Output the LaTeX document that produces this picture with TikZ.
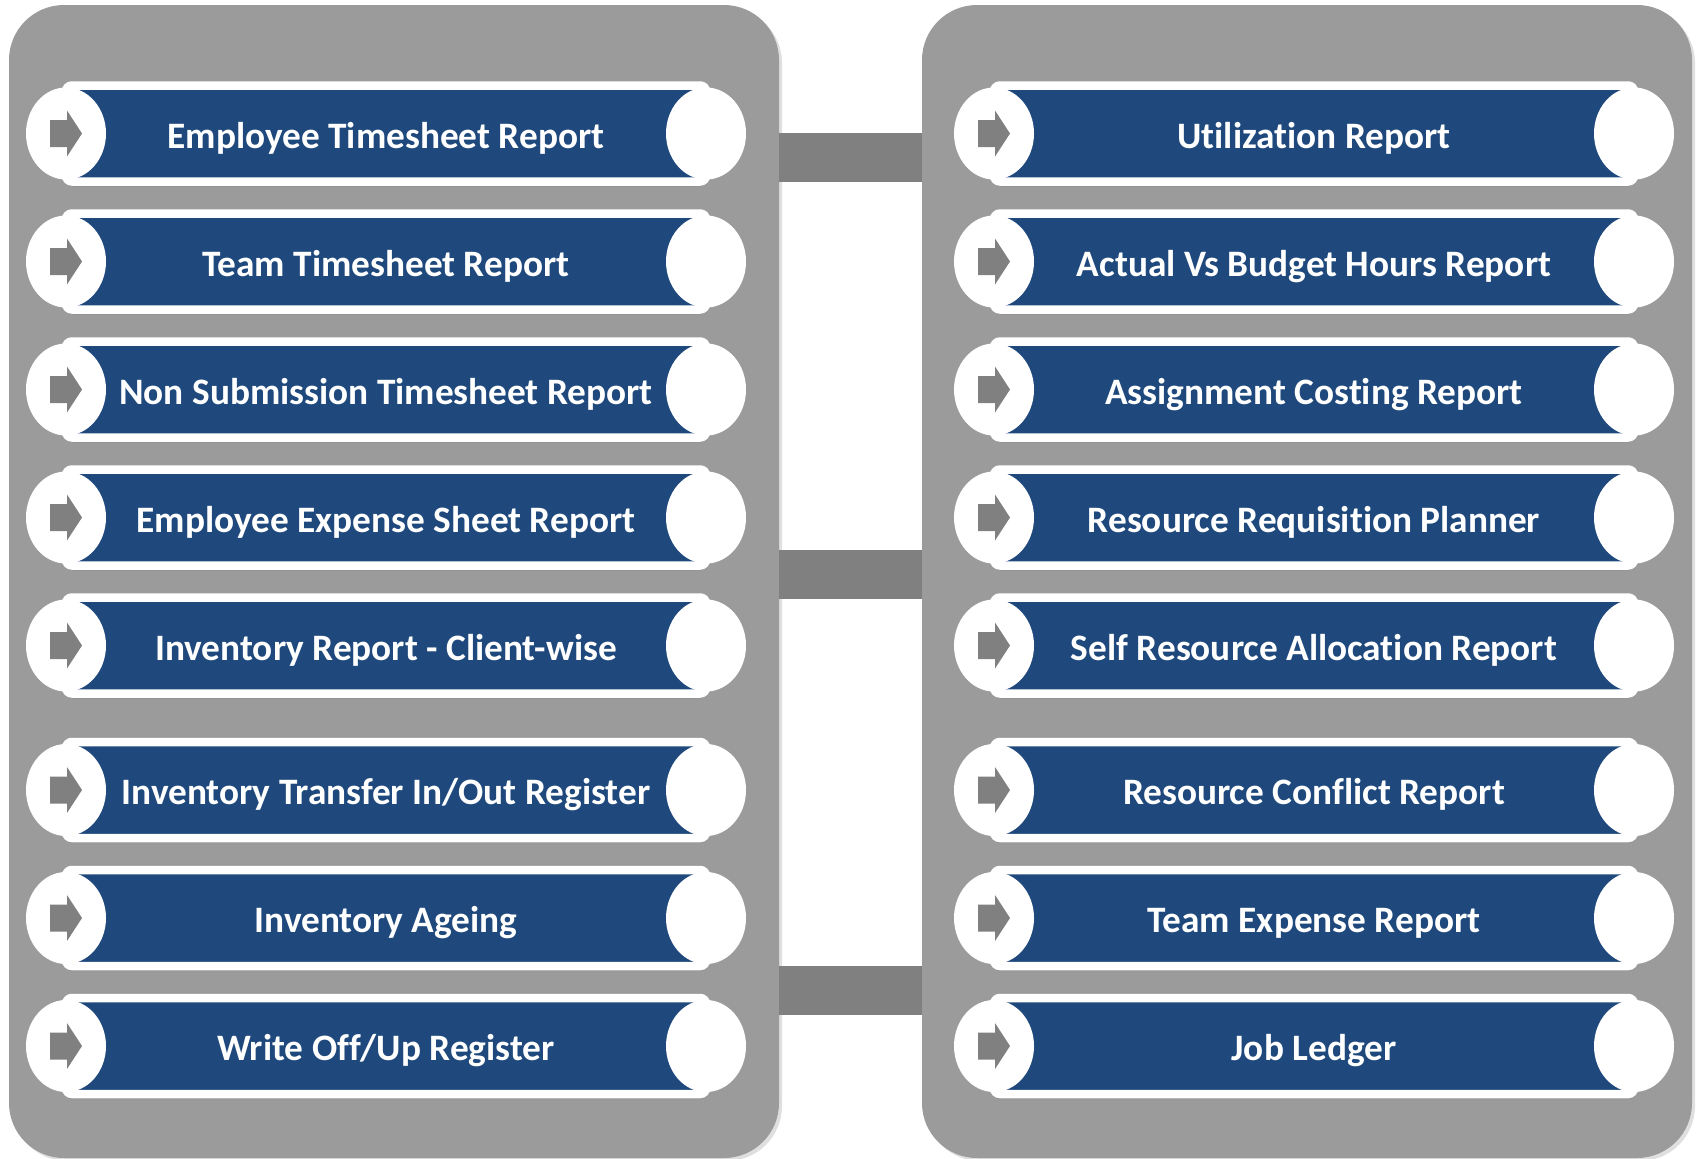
\documentclass[tikz,border=0pt]{standalone}
\usepackage{fontspec}
\setmainfont{Carlito}[Ligatures=NoCommon]
\usetikzlibrary{shapes.geometric,shadows}
\definecolor{panelgray}{RGB}{155,155,155}
\definecolor{linkgray}{RGB}{128,128,128}
\definecolor{arrowgray}{RGB}{128,128,128}
\definecolor{bandblue}{RGB}{31,73,125}
\begin{document}
\begin{tikzpicture}
  [x=1pt,y=-1pt,
   panel/.style={fill=panelgray,rounded corners=55pt,minimum width=770pt,minimum height=1153pt,inner sep=0pt,outer sep=0pt,
     drop shadow={shadow xshift=3pt,shadow yshift=-3pt,opacity=.25}},
   band/.style={rectangle,fill=bandblue,draw=white,line width=8.5pt,rounded corners=6pt,
     minimum width=640pt,minimum height=96pt,inner sep=0pt,outer sep=0pt,text=white,
     font=\bfseries\fontsize{37.3}{44}\selectfont,text height=29pt,text depth=0pt,
     drop shadow={shadow xshift=0pt,shadow yshift=-5pt,opacity=.35}},
   knob/.style={ellipse,fill=white,minimum width=80pt,minimum height=92pt,inner sep=0pt},
   link/.style={draw=linkgray,line width=49pt},
   pointer/.pic={\fill[arrowgray] (-16,-13.5) -- (1,-13.5) -- (1,-23) -- (16,0) -- (1,23) -- (1,13.5) -- (-16,13.5) -- cycle;}]
  \useasboundingbox (0,0) rectangle (1698,1159);

  \node[panel] (lpanel) at (394,581.5) {};
  \node[panel] (rpanel) at (1307,581.5) {};

  \draw[link] (lpanel.east |- 0,157.5) -- (rpanel.west |- 0,157.5);
  \draw[link] (lpanel.east |- 0,574.5) -- (rpanel.west |- 0,574.5);
  \draw[link] (lpanel.east |- 0,990.5) -- (rpanel.west |- 0,990.5);

  \node[band] (l1) at (386,133.5) {Employee Timesheet Report};
  \node[band] (l2) at (386,261.5) {Team Timesheet Report};
  \node[band] (l3) at (386,389.5) {Non Submission Timesheet Report};
  \node[band] (l4) at (386,517.5) {Employee Expense Sheet Report};
  \node[band] (l5) at (386,645.5) {Inventory Report - Client-wise};
  \node[band] (l6) at (386,790) {Inventory Transfer In/Out Register};
  \node[band] (l7) at (386,918) {Inventory Ageing};
  \node[band] (l8) at (386,1046) {Write Off/Up Register};

  \node[band] (r1) at (1314,133.5) {Utilization Report};
  \node[band] (r2) at (1314,261.5) {Actual Vs Budget Hours Report};
  \node[band] (r3) at (1314,389.5) {Assignment Costing Report};
  \node[band] (r4) at (1314,517.5) {Resource Requisition Planner};
  \node[band] (r5) at (1314,645.5) {Self Resource Allocation Report};
  \node[band] (r6) at (1314,790) {Resource Conflict Report};
  \node[band] (r7) at (1314,918) {Team Expense Report};
  \node[band] (r8) at (1314,1046) {Job Ledger};

  % white ends with the arrow on the left one
  \foreach \n in {l1,l2,l3,l4,l5,l6,l7,l8,r1,r2,r3,r4,r5,r6,r7,r8} {
    \node[knob] (\n a) at (\n.west) {};
    \pic at (\n a) {pointer};
    \node[knob] (\n b) at (\n.east) {};
  }
\end{tikzpicture}
\end{document}
